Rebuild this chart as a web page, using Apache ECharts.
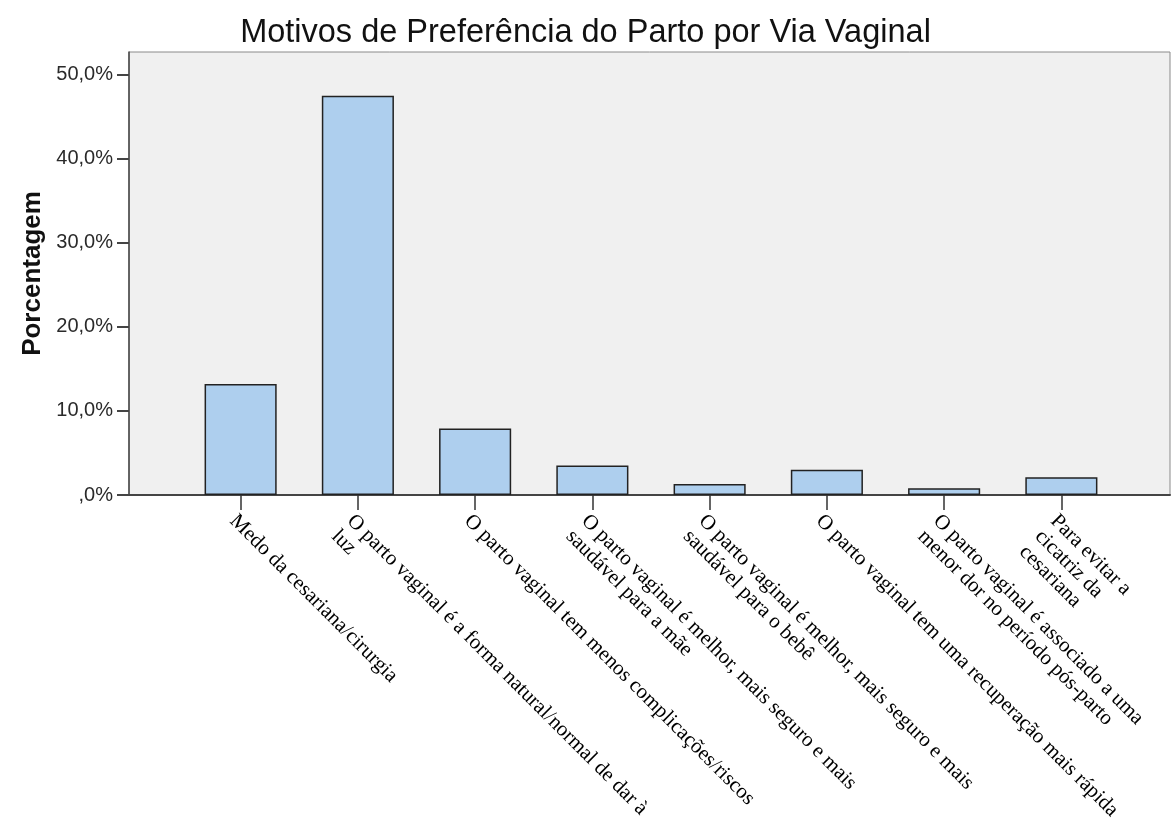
<!DOCTYPE html>
<html>
<head>
<meta charset="utf-8">
<script src="https://cdn.jsdelivr.net/npm/echarts@6/dist/echarts.min.js"></script>
<style>
  html, body { margin: 0; padding: 0; background: #fff; }
  #grafico { width: 1171px; height: 832px; }
</style>
</head>
<body>
<div id="grafico"></div>
<script>
// dados
var categorias = [
    'Medo da cesariana/cirurgia',
    'O parto vaginal é a forma natural/normal de dar à\nluz',
    'O parto vaginal tem menos complicações/riscos',
    'O parto vaginal é melhor, mais seguro e mais\nsaudável para a mãe',
    'O parto vaginal é melhor, mais seguro e mais\nsaudável para o bebê',
    'O parto vaginal tem uma recuperação mais rápida',
    'O parto vaginal é associado a uma\nmenor dor no período pós-parto',
    'Para evitar a\ncicatriz da\ncesariana'
];
var porcentagens = [13.2, 47.5, 7.9, 3.5, 1.3, 3.0, 0.8, 2.1];
var ticksY = [0, 10, 20, 30, 40, 50];
var maxY = 52.7;

function rotuloY(v) {
    if (v === 0) return ',0%';
    return v.toFixed(1).replace('.', ',') + '%';
}

var myChart = echarts.init(document.getElementById('grafico'));

option = {
    backgroundColor: '#ffffff',
    animation: false,
    title: {
        text: 'Motivos de Preferência do Parto por Via Vaginal',
        left: 'center',
        top: 12,
        textStyle: {
            fontFamily: 'Liberation Sans',
            fontSize: 32.5,
            fontWeight: 'normal',
            color: '#111'
        }
    },
    grid: [
        // moldura da área do gráfico
        {
            left: 129, right: 1, top: 52, bottom: 337,
            outerBoundsMode: 'none',
            show: true,
            backgroundColor: '#f0f0f0',
            borderColor: '#8a8a8a',
            borderWidth: 1
        },
        // área das barras
        {
            left: 182, right: 51, top: 52, bottom: 337,
            outerBoundsMode: 'none'
        }
    ],
    xAxis: [
        {
            gridIndex: 0,
            type: 'value',
            min: 0, max: 1,
            axisLine: { show: true, lineStyle: { color: '#444', width: 2 } },
            axisTick: { show: false },
            axisLabel: { show: false },
            splitLine: { show: false }
        },
        {
            gridIndex: 1,
            type: 'category',
            data: categorias,
            axisLine: { show: false },
            axisTick: {
                show: true,
                alignWithLabel: true,
                length: 15,
                lineStyle: { color: '#333', width: 1.5 }
            },
            axisLabel: {
                interval: 0,
                rotate: -45,
                margin: 15,
                align: 'left',
                verticalAlign: 'top',
                fontFamily: 'Liberation Serif',
                fontSize: 21,
                lineHeight: 22,
                color: '#000'
            }
        }
    ],
    yAxis: [
        {
            gridIndex: 0,
            type: 'value',
            min: 0, max: maxY,
            interval: 10,
            name: 'Porcentagem',
            nameLocation: 'middle',
            nameGap: 82,
            nameTextStyle: {
                fontFamily: 'Liberation Sans',
                fontSize: 26,
                fontWeight: 'bold',
                color: '#111'
            },
            axisLine: { show: true, lineStyle: { color: '#444', width: 1.5 } },
            axisTick: {
                show: true,
                length: 12,
                customValues: ticksY,
                lineStyle: { color: '#444', width: 2 }
            },
            axisLabel: {
                margin: 16,
                customValues: ticksY,
                formatter: rotuloY,
                fontFamily: 'Liberation Sans',
                fontSize: 20,
                color: '#2a2a2a'
            },
            splitLine: { show: false }
        },
        {
            gridIndex: 1,
            type: 'value',
            min: 0, max: maxY,
            show: false,
            splitLine: { show: false }
        }
    ],
    series: [
        {
            type: 'bar',
            xAxisIndex: 1,
            yAxisIndex: 1,
            data: porcentagens,
            barWidth: '61.5%',
            itemStyle: {
                color: '#aecfee',
                borderColor: '#222',
                borderWidth: 1.5
            }
        }
    ]
};
myChart.setOption(option);
</script>
</body>
</html>
